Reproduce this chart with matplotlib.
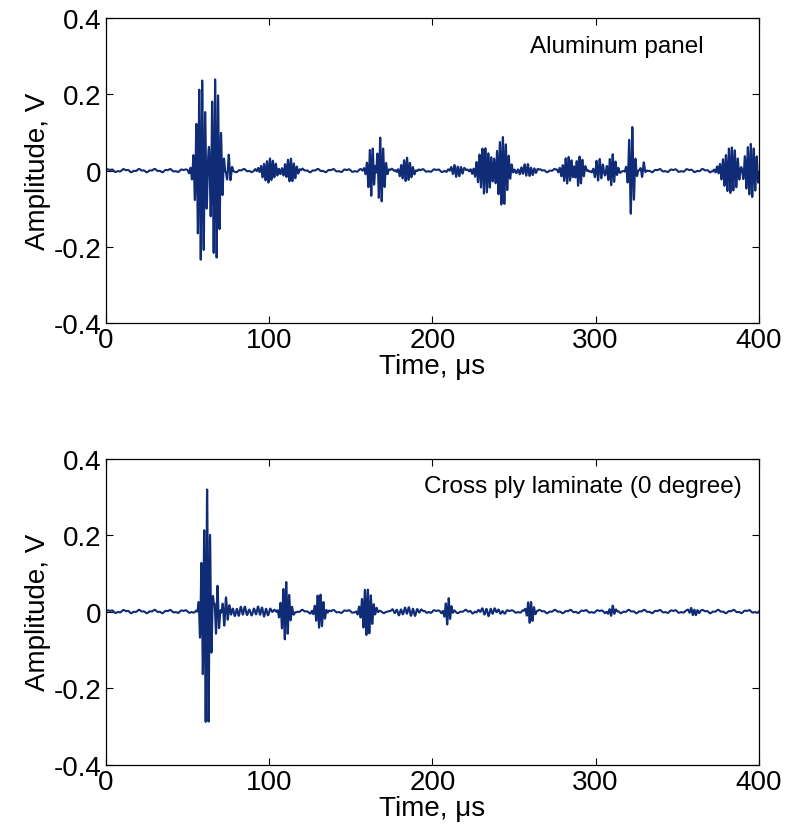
"""
Ultrasonic guided-wave signals in an aluminium panel and a cross-ply laminate
"""

import numpy as np
import matplotlib
matplotlib.use('Agg')
import matplotlib.pyplot as plt

# Wave packets: centre time (us), peak amplitude (V),
# envelope half-width (us), carrier frequency (MHz), phase (rad)
ALU_CENTER = [58.5, 67.0, 75.0, 100.0, 113.0, 163.0, 168.0, 184.0, 215.0,
              232.0, 243.0, 258.0, 283.0, 290.0, 302.0, 310.0, 322.0, 329.0,
              383.0, 395.0]
ALU_AMP = [0.24, 0.24, 0.04, 0.030, 0.030, 0.07, 0.09, 0.030, 0.015,
           0.06, 0.09, 0.015, 0.035, 0.04, 0.03, 0.04, 0.12, 0.02,
           0.06, 0.07]
ALU_WIDTH = [3.8, 3.8, 2.0, 5.0, 4.0, 3.0, 3.0, 4.0, 4.0,
             5.0, 4.0, 5.0, 4.0, 3.0, 3.0, 3.0, 2.2, 1.5,
             6.0, 5.0]
ALU_FREQ = [0.55, 0.55, 0.45, 0.55, 0.55, 0.55, 0.55, 0.55, 0.50,
            0.55, 0.55, 0.50, 0.55, 0.55, 0.50, 0.55, 0.50, 0.45,
            0.55, 0.55]
ALU_PHASE = [0.0, 2.0, 1.0, 0.0, 0.5, 0.0, 1.5, 0.0, 0.0,
             0.0, 1.0, 0.0, 0.0, 1.2, 0.0, 0.0, 0.0, 0.0,
             0.0, 1.3]

CFRP_CENTER = [62.0, 58.5, 68.0, 73.0, 82.0, 95.0, 110.0, 131.0, 160.0, 185.0,
               209.5, 235.0, 260.0, 310.0, 360.0]
CFRP_AMP = [0.32, 0.08, 0.07, 0.04, 0.012, 0.012, 0.075, 0.046, 0.062, 0.010,
            0.034, 0.008, 0.030, 0.012, 0.009]
CFRP_WIDTH = [2.6, 1.5, 2.0, 2.5, 6.0, 6.0, 3.0, 3.0, 3.8, 8.0,
              2.2, 8.0, 2.4, 2.5, 3.0]
CFRP_FREQ = [0.55, 0.55, 0.50, 0.45, 0.40, 0.40, 0.55, 0.55, 0.55, 0.40,
             0.55, 0.40, 0.55, 0.50, 0.50]
CFRP_PHASE = [1.7, 1.7, 0.5, 0.0, 0.0, 0.0, 0.0, 0.0, 0.0, 0.0,
              0.0, 0.0, 0.0, 0.0, 0.0]

# low-level background ripple (amplitude V, frequency MHz)
RIPPLE_AMP = [0.003, 0.0015]
RIPPLE_FREQ = [0.11, 0.31]

PANEL_LABELS = ['Aluminum panel', 'Cross ply laminate (0 degree)']
LABEL_X = [0.649, 0.487]
X_TICKS = [0, 100, 200, 300, 400]
Y_TICKS = [-0.4, -0.2, 0, 0.2, 0.4]
Y_TICK_LABELS = ['-0.4', '-0.2', '0', '0.2', '0.4']

LINE_COLOR = '#102c76'
FONT = 'Liberation Sans'
OUTPUT_FILE = 'out.png'

t = np.arange(0, 400.01, 0.04)


def build_signal(center, amp, width, freq, phase):
    """Sum of Gaussian tone bursts plus a faint ripple"""
    y = np.zeros_like(t)
    for tc, a, w, f, ph in zip(center, amp, width, freq, phase):
        y += a * np.exp(-((t - tc) / w) ** 2) * np.sin(2 * np.pi * f * (t - tc) + ph)
    for a, f in zip(RIPPLE_AMP, RIPPLE_FREQ):
        y += a * np.sin(2 * np.pi * f * t)
    return y


signals = [
    build_signal(ALU_CENTER, ALU_AMP, ALU_WIDTH, ALU_FREQ, ALU_PHASE),
    build_signal(CFRP_CENTER, CFRP_AMP, CFRP_WIDTH, CFRP_FREQ, CFRP_PHASE),
]

plt.rcParams['font.family'] = [FONT, 'DejaVu Sans']

fig = plt.figure(figsize=(7.88, 8.37), dpi=100)
boxes = [[0.1345, 0.613, 0.8285, 0.364], [0.1345, 0.0854, 0.8285, 0.3656]]

for box, y, label, lx in zip(boxes, signals, PANEL_LABELS, LABEL_X):
    ax = fig.add_axes(box)
    ax.plot(t, y, color=LINE_COLOR, lw=1.5)
    ax.set_xlim(0, 400)
    ax.set_ylim(-0.4, 0.4)
    ax.set_xticks(X_TICKS)
    ax.set_yticks(Y_TICKS)
    ax.set_yticklabels(Y_TICK_LABELS)
    ax.tick_params(direction='in', length=5, width=0.8, top=True, right=True,
                   labelsize=20, pad=3)
    for s in ax.spines.values():
        s.set_linewidth(0.9)
    ax.set_xlabel('Time, \u03bcs', fontsize=20, labelpad=0)
    ax.set_ylabel('Amplitude, V', fontsize=20, labelpad=2)
    ax.text(lx, 0.91, label, transform=ax.transAxes, ha='left', va='center',
            fontsize=17.5)

plt.savefig(OUTPUT_FILE, dpi=100, facecolor='white')
